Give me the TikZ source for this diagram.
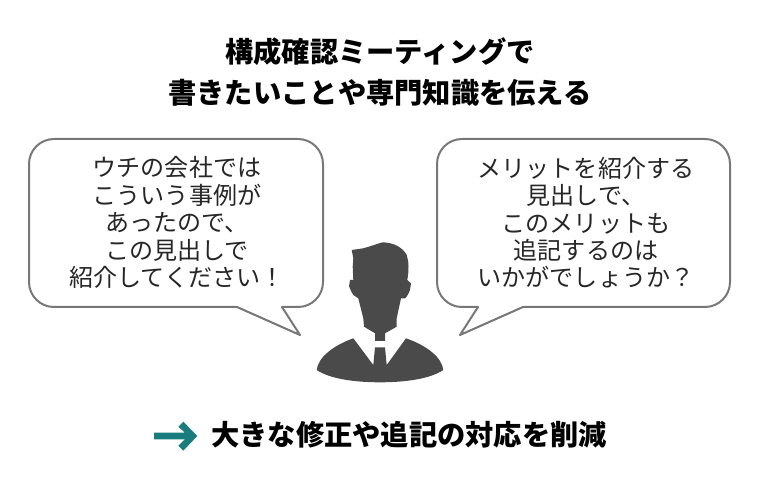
\documentclass[tikz,border=0pt]{standalone}
\usepackage{fontspec}
\setmainfont{Noto Sans CJK JP}
\usetikzlibrary{arrows}
\definecolor{bubbleline}{rgb}{0.47,0.47,0.47}
\definecolor{persongray}{rgb}{0.29,0.29,0.29}
\definecolor{arrowteal}{rgb}{0.10,0.49,0.49}
\definecolor{bodytext}{rgb}{0.15,0.15,0.15}
\tikzset{
  bubble/.style={line width=1.5pt,draw=bubbleline,fill=white},
  bubbletext/.style={align=center,inner sep=0pt,text=bodytext,font=\fontsize{18.05}{20.6}\selectfont},
  headline/.style={align=center,inner sep=0pt,text=black,font=\fontsize{21.2}{30.75}\selectfont\bfseries}
}
\begin{document}
\begin{tikzpicture}[line cap=round,line join=round,x=0.75pt,y=-0.75pt]
\useasboundingbox (0,0) rectangle (760,491);
\node [headline] (title) at (380,71.5) {構成確認ミーティングで\\書きたいことや専門知識を伝える};
\draw [bubble] (54,139) -- (298,139) arc (-90:0:25) -- (323,282) arc (0:90:25) -- (282,307) -- (300,335) -- (237,307) -- (54,307) arc (90:180:25) -- (29,164) arc (180:270:25) -- cycle;
\draw [bubble] (462,139) -- (705,139) arc (-90:0:25) -- (730,282) arc (0:90:25) -- (523,307) -- (460,335) -- (478,307) -- (462,307) arc (90:180:25) -- (437,164) arc (180:270:25) -- cycle;
\node [bubbletext] (leftsay) at (177,222.7) {ウチの会社では\\こういう事例が\\あったので、\\この見出しで\\紹介してください！};
\node [bubbletext] (rightsay) at (586,222.7) {メリットを紹介する\\見出しで、\\このメリットも\\追記するのは\\いかがでしょうか？};
\fill [persongray] (351.7,250) -- (363.3,248.3) .. controls (375,245) and (382,242) .. (383.3,242.3) .. controls (395,243) and (403,248) .. (406.7,255) .. controls (409,262) and (409,270) .. (407.3,280) -- (411,283.3) -- (410,290) .. controls (408,295) and (406,298) .. (405,298.3) -- (401,298.3) -- (396.7,318.3) -- (396.7,326.7) -- (385,333.3) -- (385,341) -- (375,341) -- (375,333.3) -- (364,326.7) -- (363.3,318.3) -- (358.3,298.3) -- (353.3,295) .. controls (350,290) and (349,285) .. (349,286.7) -- (350,280) -- (353.3,280) -- (352.7,266.7) -- (353.3,258.3) -- cycle;
\fill [persongray] (353.3,338.3) -- (373.3,365) -- (375,347.3) -- (385,347.3) -- (386.7,365) -- (406,338.3) .. controls (428,346) and (442,358) .. (443.3,370) .. controls (430,379) and (405,382.3) .. (380,382.3) .. controls (355,382.3) and (330,379) .. (316.7,370) .. controls (318,358) and (332,346) .. (353.3,338.3) -- cycle;
\fill [arrowteal] (154,432.7) -- (185,432.7) -- (178.3,426.7) -- (183.3,421.7) -- (197.3,436) -- (183.3,450.7) -- (178.3,445.7) -- (185,439.3) -- (154,439.3) -- cycle;
\node [anchor=west,inner sep=0pt,text=black,font=\fontsize{21.2}{25}\selectfont\bfseries] (result) at (211,435) {大きな修正や追記の対応を削減};
\end{tikzpicture}
\end{document}
